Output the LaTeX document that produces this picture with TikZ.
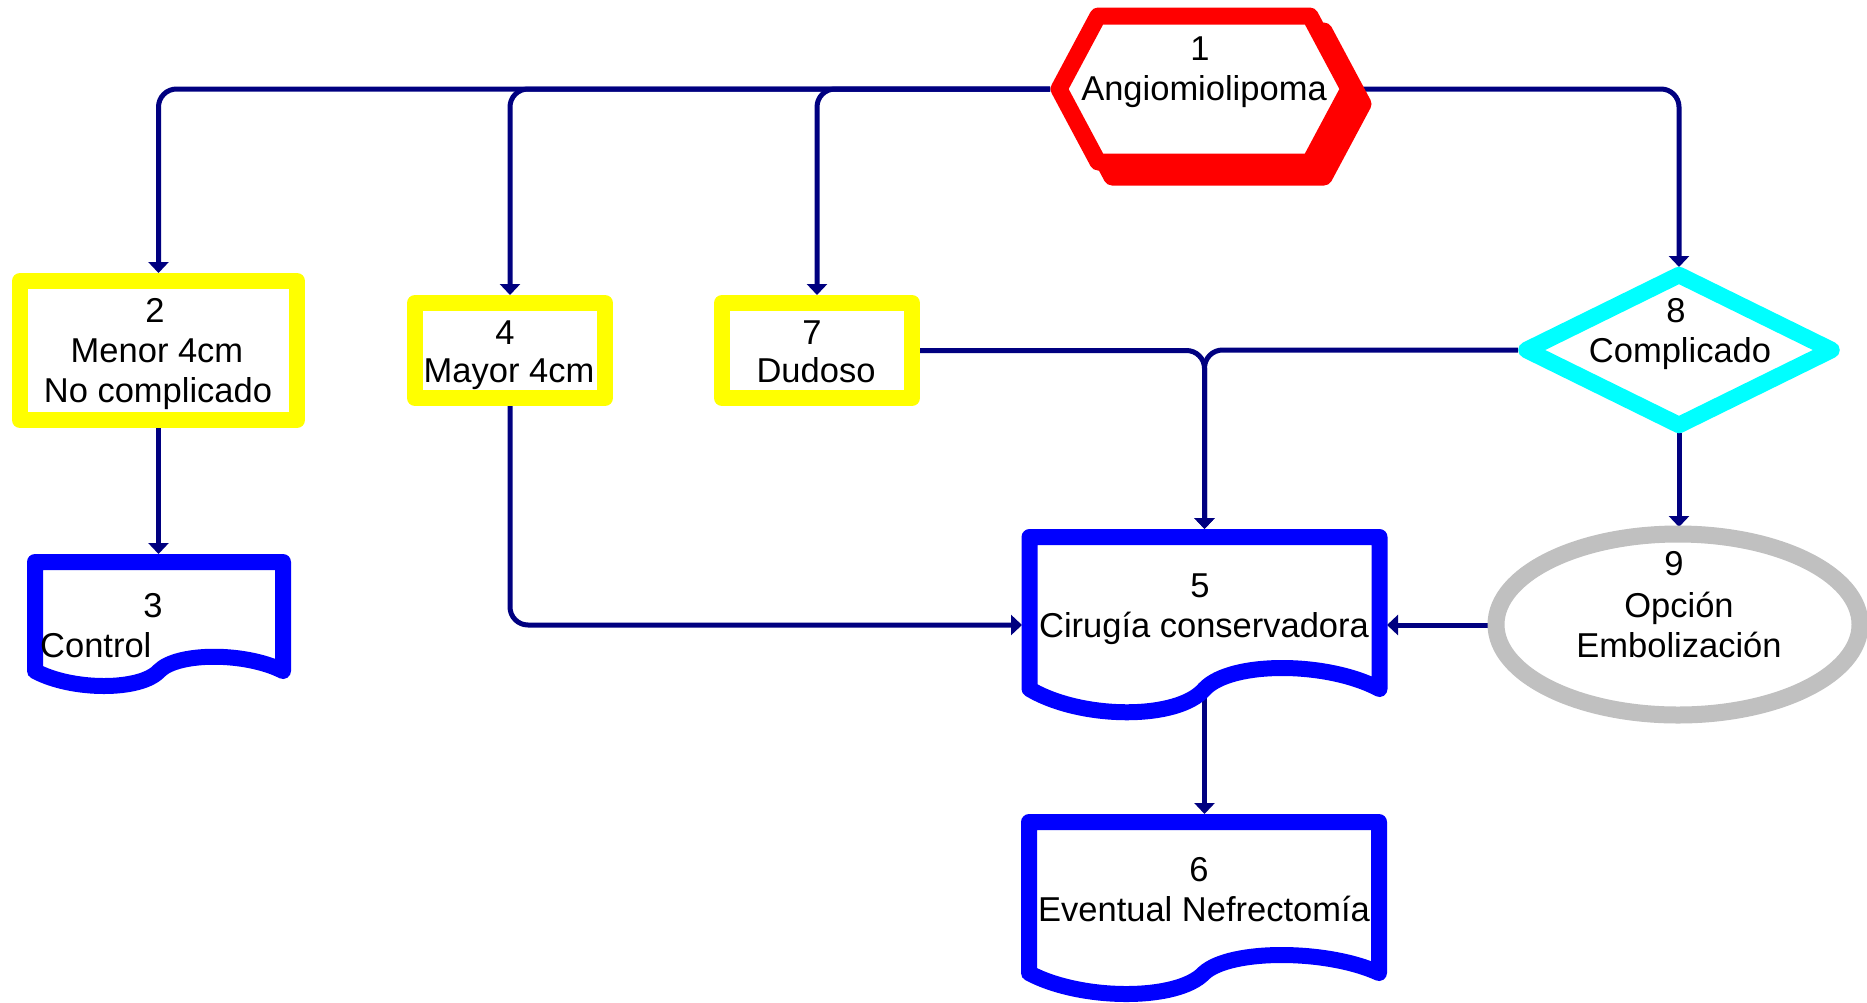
\documentclass[tikz,border=0pt]{standalone}
\usepackage{fontspec}
\setmainfont{Liberation Sans}
\usetikzlibrary{arrows.meta,calc}
\definecolor{navy}{RGB}{0,0,128}
\definecolor{myyellow}{RGB}{255,255,0}
\definecolor{myblue}{RGB}{0,0,255}
\definecolor{myred}{RGB}{255,0,0}
\definecolor{mycyan}{RGB}{0,255,255}
\definecolor{mygray}{RGB}{192,192,192}
\newcommand{\docpath}[6]{%
  \pgfmathsetmacro\docMid{(#1+#2)/2}%
  \pgfmathsetmacro\docHalf{(#2-#1)/2}%
  \draw[docline] (#1,#4) .. controls ({#1+0.3*\docHalf},{#4+#5}) and ({\docMid-0.15*\docHalf},{#4+#5}) .. (\docMid,#4)
     .. controls ({\docMid+0.15*\docHalf},{#4-#6}) and ({#2-0.3*\docHalf},{#4-#6}) .. (#2,#4) -- (#2,#3) -- (#1,#3) -- cycle;}
\begin{document}
\begin{tikzpicture}[x=1pt,y=-1pt,
  conn/.style={draw=navy,line width=5pt,rounded corners=18pt,-{Triangle[width=20pt,length=11pt]}},
  ghost/.style={inner sep=0pt,outer sep=0pt,draw=none},
  txt/.style={inner sep=0pt,anchor=base,font=\fontsize{34.5}{40}\selectfont},
  ybox/.style={draw=myyellow,line width=16pt,line join=round,fill=white},
  docline/.style={draw=myblue,line width=16pt,line join=round,fill=white},
  hexline/.style={draw=myred,line width=17pt,line join=round},
  ]
\fill[white] (0,0) rectangle (1867,1002);
\useasboundingbox (0,0) rectangle (1867,1002);

% invisible shape nodes
\node[ghost,minimum width=308pt,minimum height=164pt] (n1) at (1204,89) {};
\node[ghost,minimum width=293pt,minimum height=154pt] (n2) at (158.5,350) {};
\node[ghost,minimum width=264pt,minimum height=139pt,anchor=north] (n3) at (159,554) {};
\node[ghost,minimum width=206pt,minimum height=111pt] (n4) at (510,350.5) {};
\node[ghost,minimum width=206pt,minimum height=111pt] (n7) at (817,350.5) {};
\node[ghost,minimum width=365pt,minimum height=192pt] (n5) at (1204.5,625) {};
\node[ghost,minimum width=366pt,minimum height=188pt,anchor=north] (n6) at (1204.5,814) {};
\node[ghost,minimum width=322pt,minimum height=166pt] (n8) at (1679,350) {};
\node[ghost,minimum width=379pt,minimum height=196pt] (n9) at (1678.5,625) {};
\coordinate (n5mid) at (1204.5,690);

% connectors
\draw[conn] (n1.west) -| (n2.north);
\draw[conn] (n1.west) -| (n4.north);
\draw[conn] (n1.west) -| (n7.north);
\draw[conn] (n1.east) -| (n8.north);
\draw[conn] (n2.south) -- (n2.south |- n3.north);
\draw[conn] (n4.south) |- (n5.west);
\draw[conn] (n7.east) -| (n5.north);
\draw[conn] (n8.west) -| (n5.north);
\draw[conn] (n8.south) -- (n8.south |- n9.north);
\draw[conn] (n9.west) -- (n5.east);
\draw[conn] (n5mid) -- (n5mid |- n6.north);

% hexagon 1 with offset shadow
\begin{scope}[shift={(14,15)}]
\draw[hexline,fill=myred] (1059,89) -- (1098,16) -- (1310,16) -- (1349,89) -- (1310,162) -- (1098,162) -- cycle;
\end{scope}
\draw[hexline,fill=white] (1059,89) -- (1098,16) -- (1310,16) -- (1349,89) -- (1310,162) -- (1098,162) -- cycle;

% yellow boxes
\draw[ybox] (20,281) rectangle (297,420);
\draw[ybox] (415,303) rectangle (605,398);
\draw[ybox] (722,303) rectangle (912,398);

% documents
\docpath{35}{283}{562}{671}{20}{19}
\docpath{1029.5}{1379.5}{537}{689}{31}{28}
\docpath{1029}{1379}{822}{973}{28}{24}

% diamond
\draw[draw=mycyan,line width=16.5pt,line join=round,fill=white] (1679,275) -- (1831.5,350) -- (1679,425) -- (1526.5,350) -- cycle;

% ellipse
\draw[draw=mygray,line width=17pt,fill=white] (1678,624.5) ellipse [x radius=182pt,y radius=90.5pt];

% texts
\node[txt] (t1a) at (1200,60) {1};
\node[txt] (t1b) at (1204,100) {Angiomiolipoma};
\node[txt] (t2a) at (155,322) {2};
\node[txt] (t2b) at (157,362) {Menor 4cm};
\node[txt] (t2c) at (158,402) {No complicado};
\node[txt] (t3a) at (153,617) {3};
\node[txt,anchor=base west] (t3b) at (40,657) {Control};
\node[txt] (t4a) at (505,344) {4};
\node[txt] (t4b) at (509,382) {Mayor 4cm};
\node[txt] (t7a) at (812,344) {7};
\node[txt] (t7b) at (816,382) {Dudoso};
\node[txt] (t8a) at (1676,322) {8};
\node[txt] (t8b) at (1680,362) {Complicado};
\node[txt] (t9a) at (1674,575) {9};
\node[txt] (t9b) at (1679,617) {Opción};
\node[txt] (t9c) at (1679,657) {Embolización};
\node[txt] (t5a) at (1200,597) {5};
\node[txt] (t5b) at (1204,637) {Cirugía conservadora};
\node[txt] (t6a) at (1199,881) {6};
\node[txt] (t6b) at (1204,921) {Eventual Nefrectomía};
\end{tikzpicture}
\end{document}
